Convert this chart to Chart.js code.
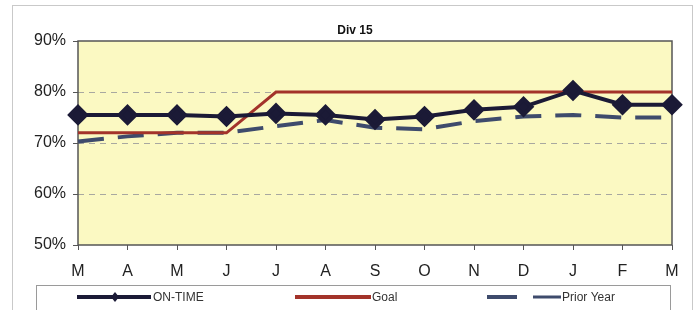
<!DOCTYPE html>
<html>
<head>
<meta charset="utf-8">
<script src="https://cdn.jsdelivr.net/npm/chart.js@4"></script>
<style>
html,body{margin:0;padding:0;background:#fff;}
#wrap{width:697px;height:310px;position:relative;}
</style>
</head>
<body>
<div id="wrap"><canvas id="c" width="697" height="310"></canvas></div>
<script>
const chartTitle = "Div 15";
const categories = ["M","A","M","J","J","A","S","O","N","D","J","F","M"];
const onTime    = [75.5, 75.5, 75.5, 75.2, 75.8, 75.5, 74.6, 75.2, 76.5, 77.1, 80.3, 77.5, 77.5];
const goal      = [72, 72, 72, 72, 80, 80, 80, 80, 80, 80, 80, 80, 80];
const priorYear = [70.3, 71.3, 72, 72, 73.3, 74.5, 73, 72.7, 74.3, 75.2, 75.5, 75, 75];
const yTicks = [50, 60, 70, 80, 90];

const C_ON = "#1b1a36", C_GOAL = "#a3332a", C_PRIOR = "#3e4b6c";

const deco = {
  id: "deco",
  beforeDraw(chart) {
    const {ctx, chartArea: a} = chart;
    ctx.save();
    ctx.fillStyle = "#fff";
    ctx.fillRect(0, 0, chart.width, chart.height);
    ctx.strokeStyle = "#c9c9c9";
    ctx.lineWidth = 1;
    ctx.strokeRect(12.5, 5.5, 680, 320);
    ctx.fillStyle = "#fbf9c2";
    ctx.fillRect(a.left, a.top, a.right - a.left, a.bottom - a.top);
    ctx.restore();
  },
  beforeDatasetsDraw(chart) {
    const {ctx, chartArea: a} = chart;
    ctx.save();
    ctx.strokeStyle = "#555";
    ctx.lineWidth = 1.5;
    ctx.strokeRect(a.left, a.top, a.right - a.left, a.bottom - a.top);
    ctx.restore();
  },
  afterDraw(chart) {
    const {ctx} = chart;
    ctx.save();
    // title
    ctx.fillStyle = "#111";
    ctx.font = "bold 12px Arial, 'Liberation Sans', sans-serif";
    ctx.textAlign = "center";
    ctx.textBaseline = "middle";
    ctx.fillText(chartTitle, 355, 31);
    // legend box
    ctx.strokeStyle = "#9a9a9a";
    ctx.lineWidth = 1;
    ctx.strokeRect(36.5, 285.5, 634, 40);
    const ly = 297;
    ctx.font = "12px Arial, 'Liberation Sans', sans-serif";
    ctx.textAlign = "left";
    ctx.fillStyle = "#333";
    const ds = chart.data.datasets;
    // ON-TIME
    ctx.strokeStyle = ds[0].borderColor; ctx.lineWidth = 4;
    ctx.beginPath(); ctx.moveTo(77, ly); ctx.lineTo(151, ly); ctx.stroke();
    ctx.fillStyle = ds[0].pointBackgroundColor;
    ctx.beginPath(); ctx.moveTo(115, ly - 5); ctx.lineTo(119, ly); ctx.lineTo(115, ly + 5); ctx.lineTo(111, ly); ctx.closePath(); ctx.fill();
    ctx.fillStyle = "#333";
    ctx.fillText(ds[0].label, 153, ly + 1);
    // Goal
    ctx.strokeStyle = ds[1].borderColor; ctx.lineWidth = 4;
    ctx.beginPath(); ctx.moveTo(295, ly); ctx.lineTo(371, ly); ctx.stroke();
    ctx.fillText(ds[1].label, 372, ly + 1);
    // Prior Year
    ctx.strokeStyle = ds[2].borderColor; ctx.lineWidth = 4;
    ctx.beginPath(); ctx.moveTo(487, ly); ctx.lineTo(517, ly); ctx.stroke();
    ctx.lineWidth = 3;
    ctx.beginPath(); ctx.moveTo(533, ly); ctx.lineTo(561, ly); ctx.stroke();
    ctx.fillText(ds[2].label, 562, ly + 1);
    ctx.restore();
  }
};

new Chart(document.getElementById("c"), {
  type: "line",
  data: {
    labels: categories,
    datasets: [
      {label: "ON-TIME", data: onTime, borderColor: C_ON, borderWidth: 4,
       pointStyle: "rectRot", pointRadius: 8, pointBackgroundColor: C_ON, pointBorderColor: C_ON, tension: 0},
      {label: "Goal", data: goal, borderColor: C_GOAL, borderWidth: 3, pointRadius: 0, tension: 0},
      {label: "Prior Year", data: priorYear, borderColor: C_PRIOR, borderWidth: 4, borderDash: [26, 14], pointRadius: 0, tension: 0}
    ]
  },
  options: {
    responsive: false,
    animation: false,
    layout: {padding: {left: 0, top: 41, right: 25, bottom: 0}},
    plugins: {legend: {display: false}, title: {display: false}, tooltip: {enabled: false}},
    scales: {
      x: {
        type: "category",
        offset: false,
        grid: {display: true, drawOnChartArea: false, drawTicks: true, tickLength: 5, tickColor: "#555"},
        border: {display: false},
        ticks: {color: "#222", font: {family: "Arial, 'Liberation Sans', sans-serif", size: 16}, padding: 12, maxRotation: 0, autoSkip: false},
        afterFit(s) { s.height = 65; }
      },
      y: {
        min: 50, max: 90,
        afterBuildTicks(s) { s.ticks = yTicks.map(v => ({value: v})); },
        grid: {
          color: ctx => (ctx.tick && (ctx.tick.value === 50 || ctx.tick.value === 90)) ? "rgba(0,0,0,0)" : "#a8a8a0",
          tickColor: "#555", tickLength: 5, lineWidth: 1
        },
        border: {display: false, dash: [6, 5]},
        ticks: {color: "#222", font: {family: "Arial, 'Liberation Sans', sans-serif", size: 16}, padding: 7,
                callback: v => v + "%"},
        afterFit(s) { s.width = 78; }
      }
    }
  },
  plugins: [deco]
});
</script>
</body>
</html>
